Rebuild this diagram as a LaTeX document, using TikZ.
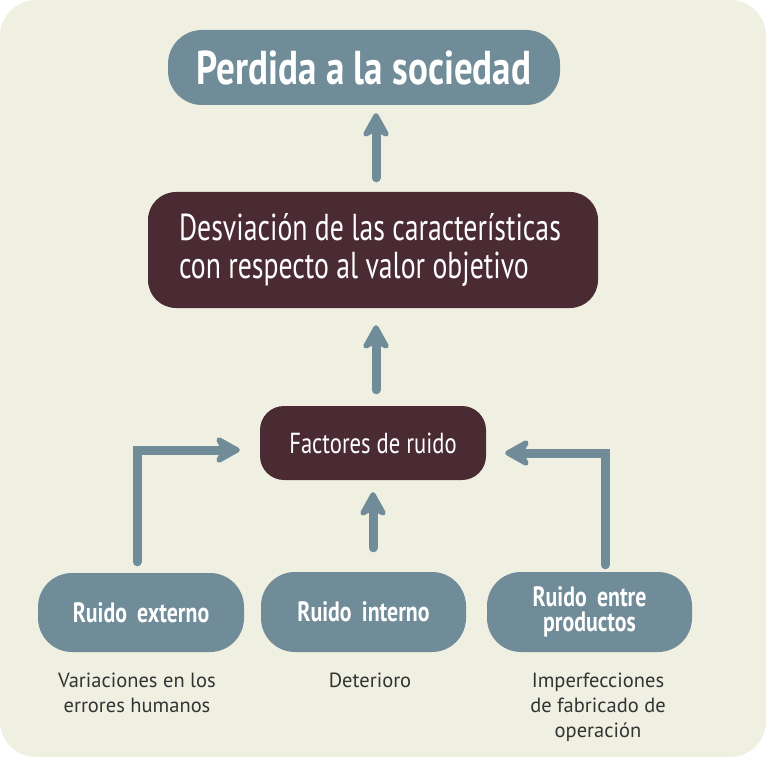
\documentclass[tikz,border=0pt]{standalone}
\usepackage{fontspec}
\setmainfont{PT Sans}
\newfontfamily\cond[FakeStretch=0.78]{PT Sans}
\newfontfamily\condn[FakeStretch=0.74]{PT Sans}
\usetikzlibrary{arrows.meta}
\definecolor{bgc}{RGB}{240,240,226}
\definecolor{steel}{RGB}{112,140,152}
\definecolor{wine}{RGB}{74,42,51}
\definecolor{captc}{RGB}{51,51,51}
\tikzset{
  box/.style={rounded corners=#1, inner sep=0pt, text=white, align=center},
  bluebox/.style={box=34pt, fill=steel},
  winebox/.style={box=28pt, fill=wine},
  arr/.style={draw=steel, line width=9pt, line cap=round,
    -{Stealth[length=30pt,width=33pt,inset=9pt,round]}},
  capt/.style={text=captc, font=\fontsize{20.5}{25}\selectfont, align=center, inner sep=0pt},
  bottxt/.style={font=\cond\bfseries\fontsize{28}{25.5}\selectfont},
}
\begin{document}
\begin{tikzpicture}[x=1pt,y=-1pt]
\useasboundingbox (0,0) rectangle (768,759);
\fill[white] (0,0) rectangle (768,759);
\fill[bgc, rounded corners=36pt] (0,0) rectangle (766,757);

\node[bluebox, minimum width=392pt, minimum height=75pt,
  font=\cond\bfseries\fontsize{47.5}{48}\selectfont] (top) at (364,67.5) {Perdida a la sociedad};
\node[winebox, minimum width=450pt, minimum height=116pt, align=left,
  font=\condn\fontsize{37.5}{38}\selectfont] (desv) at (373,250)
  {Desviación de las características\hspace*{6pt}\\con respecto al valor objetivo};
\node[winebox, box=24pt, minimum width=226pt, minimum height=74pt,
  font=\cond\fontsize{29}{32}\selectfont] (fact) at (373,443) {Factores de ruido};

\node[bluebox, minimum width=206pt, minimum height=79pt, bottxt] (ext) at (141,612.5) {Ruido\, externo};
\node[bluebox, minimum width=205pt, minimum height=80pt, bottxt] (int) at (363.5,612) {Ruido\, interno};
\node[bluebox, minimum width=205pt, minimum height=80pt, bottxt] (ent) at (589.5,612) {Ruido\, entre\\productos};

\node[capt, anchor=north] (c1) at (137,673) {Variaciones en los\\errores humanos};
\node[capt, anchor=north] (c2) at (370,673) {Deterioro};
\node[capt, anchor=north] (c3) at (598,673) {Imperfecciones\\de fabricado de\\operación};

\draw[arr, shorten <=14pt, shorten >=8pt] ([xshift=12pt]top.south |- desv.north) -- ([xshift=12pt]top.south);
\draw[arr, shorten <=16pt, shorten >=17pt] ([xshift=3pt]desv.south |- fact.north) -- ([xshift=3pt]desv.south);
\draw[arr, shorten <=24pt, shorten >=12pt] ([xshift=9.5pt]int.north) -- ([xshift=9.5pt]int.north |- fact.south);
\draw[arr, shorten <=11pt, shorten >=20pt] ([xshift=-4pt]ext.north) |- ([yshift=-7pt]fact.west);
\draw[arr, shorten <=7pt, shorten >=19pt] ([xshift=15.5pt]ent.north) |- ([yshift=-10pt]fact.east);
\end{tikzpicture}
\end{document}
